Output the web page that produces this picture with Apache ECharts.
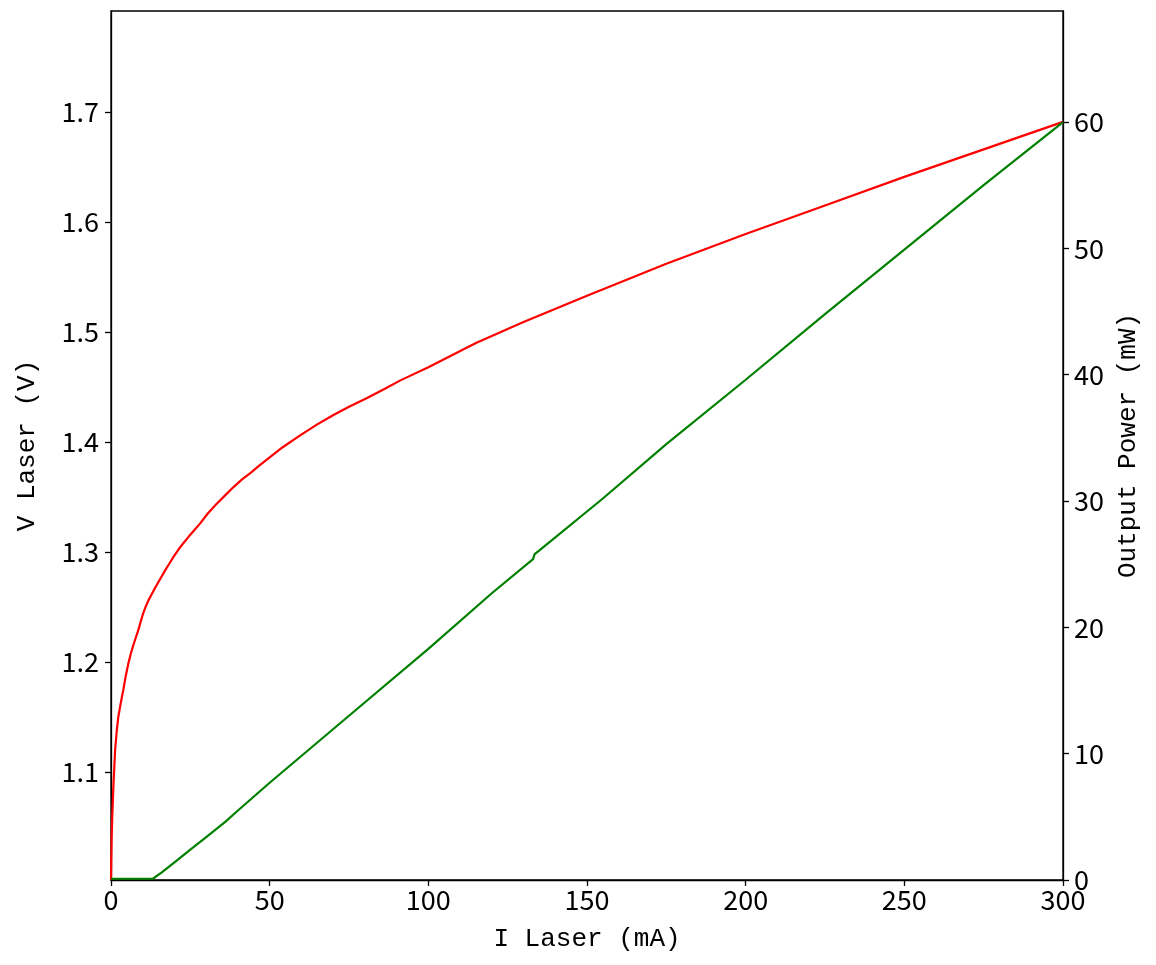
<!DOCTYPE html>
<html>
<head>
<meta charset="utf-8">
<script src="https://cdn.jsdelivr.net/npm/echarts@6/dist/echarts.min.js"></script>
<style>
html,body{margin:0;padding:0;background:#fff;}
#chart{width:1156px;height:965px;}
</style>
</head>
<body>
<div id="chart"></div>
<script>
// Voltage curve (red): current mA, voltage V
const vCurrent = [0, 0.2, 0.4, 0.8, 1.3, 1.8, 2.3, 3.1, 3.9, 4.7, 5.5, 6.2, 7, 7.8, 8.6, 9.3, 10, 10.9, 11.8, 12.9, 14, 15, 16, 17.2, 18.5, 19.8, 21.2, 22.8, 24.5, 26.3, 28.1, 30.5, 33, 35.8, 38.6, 41.3, 44, 46.5, 49.1, 54, 59.6, 65, 70.1, 75, 80.7, 86, 91.2, 100, 115, 130, 150, 175, 200, 225, 250, 275, 300];
const vValues  = [1.002, 1.04, 1.06, 1.09, 1.12, 1.137, 1.150, 1.163, 1.175, 1.188, 1.199, 1.207, 1.215, 1.222, 1.229, 1.236, 1.243, 1.250, 1.256, 1.262, 1.268, 1.273, 1.278, 1.284, 1.290, 1.296, 1.302, 1.308, 1.314, 1.320, 1.326, 1.335, 1.343, 1.351, 1.359, 1.366, 1.372, 1.378, 1.384, 1.395, 1.406, 1.416, 1.4245, 1.432, 1.440, 1.448, 1.456, 1.468, 1.490, 1.509, 1.533, 1.562, 1.589, 1.615, 1.641, 1.666, 1.691];
// Output power curve (green): current mA, power mW
const pCurrent = [0, 13.2, 16, 20, 25, 30, 36, 40, 50, 75, 100, 120, 133, 133.5, 135, 155, 175, 200, 225, 250, 275, 300];
const pValues  = [0.1, 0.1, 0.6, 1.4, 2.4, 3.4, 4.6, 5.5, 7.7, 13.0, 18.3, 22.7, 25.4, 25.8, 26.1, 30.2, 34.5, 39.6, 44.8, 49.9, 55.0, 60.0];
// Tick labels
const xTicks = [0, 50, 100, 150, 200, 250, 300];
const vTicks = [1.1, 1.2, 1.3, 1.4, 1.5, 1.6, 1.7];
const pTicks = [0, 10, 20, 30, 40, 50, 60];

const TICKFONT = 'Noto Sans CJK SC';
const TITLEFONT = 'Liberation Mono';
const axisLineStyle = {color: '#000', width: 1.3};
const chart = echarts.init(document.getElementById('chart'), null, {renderer: 'canvas'});
chart.setOption({
  animation: false,
  backgroundColor: '#fff',
  grid: {left: 111, right: 93, top: 11, bottom: 85, show: true, borderColor: '#000', borderWidth: 1.3, backgroundColor: 'transparent'},
  xAxis: {
    type: 'value', min: 0, max: 300, interval: 50,
    name: 'I Laser (mA)', nameLocation: 'middle', nameGap: 46,
    nameTextStyle: {fontFamily: TITLEFONT, fontSize: 26, color: '#000'},
    axisLine: {show: true, lineStyle: axisLineStyle},
    axisTick: {show: true, inside: false, length: 6, lineStyle: axisLineStyle, customValues: xTicks},
    axisLabel: {fontFamily: TICKFONT, fontSize: 27, color: '#000', margin: 6, customValues: xTicks},
    splitLine: {show: false}
  },
  yAxis: [{
    type: 'value', min: 1.0018, max: 1.7918, position: 'left',
    name: 'V Laser (V)', nameLocation: 'middle', nameGap: 71, nameRotate: 90,
    nameTextStyle: {fontFamily: TITLEFONT, fontSize: 26, color: '#000'},
    axisLine: {show: true, lineStyle: axisLineStyle},
    axisTick: {show: true, length: 6, lineStyle: axisLineStyle, customValues: vTicks},
    axisLabel: {fontFamily: TICKFONT, fontSize: 27, color: '#000', margin: 12, customValues: vTicks,
      formatter: v => v.toFixed(1)},
    splitLine: {show: false}
  }, {
    type: 'value', min: 0, max: 68.79, position: 'right',
    name: 'Output Power (mW)', nameLocation: 'middle', nameGap: 45, nameRotate: 90,
    nameTextStyle: {fontFamily: TITLEFONT, fontSize: 26, color: '#000'},
    axisLine: {show: true, lineStyle: axisLineStyle},
    axisTick: {show: true, length: 6, lineStyle: axisLineStyle, customValues: pTicks},
    axisLabel: {fontFamily: TICKFONT, fontSize: 27, color: '#000', margin: 11, customValues: pTicks},
    splitLine: {show: false}
  }],
  series: [{
    type: 'line', yAxisIndex: 0, showSymbol: false, smooth: false,
    lineStyle: {color: '#ff0000', width: 2.2}, itemStyle: {color: '#ff0000'},
    data: vCurrent.map((x, i) => [x, vValues[i]])
  }, {
    type: 'line', yAxisIndex: 1, showSymbol: false, smooth: false,
    lineStyle: {color: '#008000', width: 2.2}, itemStyle: {color: '#008000'},
    data: pCurrent.map((x, i) => [x, pValues[i]])
  }]
});
</script>
</body>
</html>
